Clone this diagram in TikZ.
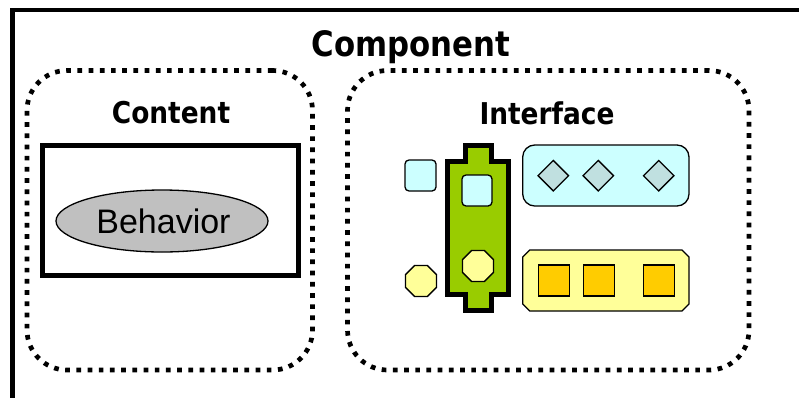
\documentclass[tikz,border=0pt]{standalone}
\usepackage{fontspec}
\newfontfamily\headfont{DejaVu Sans}[FakeStretch=0.88]
\newfontfamily\labelfont{Liberation Sans}
\usetikzlibrary{shapes.geometric}

\definecolor{paleCyan}{HTML}{CCFFFF}
\definecolor{portGreen}{HTML}{99CC00}
\definecolor{paleYellow}{HTML}{FFFF99}
\definecolor{amber}{HTML}{FFCC00}
\definecolor{greyCyan}{HTML}{C0E0E0}
\definecolor{behaviorGrey}{HTML}{C0C0C0}

\tikzset{
  frame/.style={draw, line width=4.5pt},
  dotbox/.style={draw, line width=4.7pt, dash pattern=on 4.7pt off 6.5pt,
    rounded corners=40pt, inner sep=0pt},
  heading/.style={anchor=base, font=\headfont\bfseries\fontsize{30}{36}\selectfont},
  thin outline/.style={draw, line width=1.3pt},
  cyanbox/.style={thin outline, fill=paleCyan, rounded corners=4pt,
    minimum width=31pt, minimum height=31pt, inner sep=0pt},
  octa/.style={thin outline, fill=paleYellow, regular polygon, regular polygon sides=8,
    minimum size=33.5pt, inner sep=0pt},
  gem/.style={thin outline, fill=greyCyan, diamond, minimum width=31pt,
    minimum height=31pt, inner sep=0pt},
  tile/.style={thin outline, fill=amber, minimum width=31pt, minimum height=31pt,
    inner sep=0pt},
}

\begin{document}
\begin{tikzpicture}[x=1pt,y=-1pt]
  \clip (0,0) rectangle (799,397);

  % outer component frame (runs past the right and bottom edges)
  \draw[frame] (12.5,10) rectangle (840,440);
  \node[heading, font=\headfont\bfseries\fontsize{35}{42}\selectfont] (title) at (411,56) {Component};

  % content compartment
  \node[dotbox, minimum width=285.5pt, minimum height=299.5pt] (content) at (169.75,220.25) {};
  \node[heading] (contentLabel) at (171,123.5) {Content};
  \node[draw, line width=5pt, minimum width=256pt, minimum height=129.5pt, inner sep=0pt]
    (behaviorBox) at (170,210.25) {};
  \node[ellipse, draw, line width=1.3pt, fill=behaviorGrey, minimum width=212pt,
    minimum height=62pt, inner sep=0pt, font=\labelfont\fontsize{34}{40}\selectfont]
    (behavior) at (162,221) {\hspace*{3pt}Behavior};

  % interface compartment
  \node[dotbox, minimum width=401.5pt, minimum height=299.5pt] (interface) at (548.25,220.25) {};
  \node[heading] (interfaceLabel) at (547,124) {Interface};

  % green port bar
  \draw[line width=5pt, fill=portGreen]
    (465,145) -- (491.5,145) -- (491.5,161.5) -- (508,161.5) -- (508,294)
    -- (491.5,294) -- (491.5,310.5) -- (465,310.5) -- (465,294) -- (447.5,294)
    -- (447.5,161.5) -- (465,161.5) -- cycle;

  \node[cyanbox] (freeSquare) at (420.5,175.5) {};
  \node[cyanbox, minimum width=30pt] (portSquare) at (477,190.5) {};
  \node[octa] (freeOcta) at (421,281) {};
  \node[octa] (portOcta) at (478,266) {};

  % provided operations
  \node[thin outline, fill=paleCyan, rounded corners=12pt, minimum width=166.3pt,
    minimum height=61pt, inner sep=0pt] (opsBar) at (605.85,175.5) {};
  \node[gem] (gemA) at (553.3,175.7) {};
  \node[gem] (gemB) at (598.3,175.7) {};
  \node[gem] (gemC) at (658.7,175.7) {};

  % required operations: bar with clipped corners
  \draw[thin outline, fill=paleYellow]
    (529.7,250) -- (682,250) -- (689,257) -- (689,304) -- (682,311)
    -- (529.7,311) -- (522.7,304) -- (522.7,257) -- cycle;
  \node[tile] (tileA) at (553.7,280.5) {};
  \node[tile] (tileB) at (598.7,280.5) {};
  \node[tile] (tileC) at (659,280.5) {};
\end{tikzpicture}
\end{document}
